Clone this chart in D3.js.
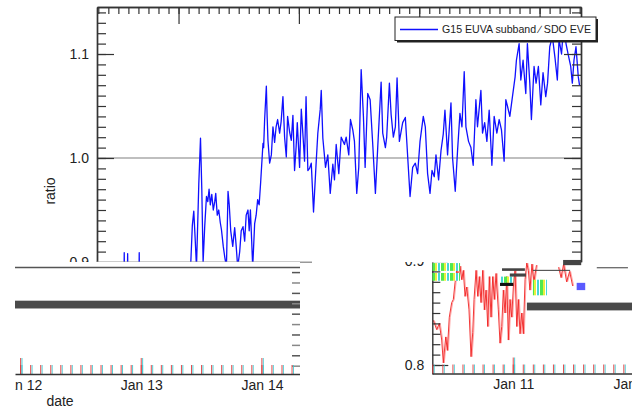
<!DOCTYPE html>
<html>
<head>
<meta charset="utf-8">
<script src="https://cdn.jsdelivr.net/npm/d3@7"></script>
<style>
  body { margin: 0; background: #fff; }
  svg { display: block; font-family: "Liberation Sans", Arial, Helvetica, sans-serif; }
</style>
</head>
<body>
<svg width="632" height="414"></svg>
<script>
const HOUR = 3600e3;
const blueEpoch = Date.UTC(2011, 0, 9); // hours of the blue series count from here
const redEpoch = Date.UTC(2011, 0, 10); // hours of the red series count from here

// top panel: G15 EUVA subband / SDO EVE ratio
const blueHours = [
  12.00, 13.10, 13.17, 13.25, 13.78, 13.85, 13.93, 16.08, 16.16, 16.24,
  25.85, 26.45, 26.75, 27.04, 27.34, 27.58, 27.84, 28.04, 28.38, 28.64,
  28.90, 29.23, 29.57, 29.83, 30.09, 30.33, 30.63, 30.93, 31.22, 31.42,
  31.72, 32.02, 32.32, 32.56, 32.92, 33.21, 33.55, 33.87, 34.11, 34.41,
  34.81, 35.20, 35.50, 35.80, 36.20, 36.50, 36.86, 37.19, 37.49, 37.85,
  38.09, 38.33, 38.59, 38.79, 39.18, 39.48, 39.78, 40.08, 40.38, 40.84,
  40.97, 41.17, 41.51, 41.67, 41.83, 42.17, 42.51, 42.83, 43.16, 43.46,
  43.76, 44.16, 44.46, 44.82, 45.15, 45.49, 45.75, 46.15, 46.49, 46.81,
  47.14, 47.44, 47.68, 48.14, 48.48, 48.84, 49.13, 49.43, 49.79, 50.13,
  50.47, 50.92, 51.46, 51.78, 52.26, 52.46, 52.78, 53.31, 53.77, 54.25,
  54.77, 55.10, 55.44, 55.96, 56.44, 57.09, 57.43, 57.95, 58.29, 58.75,
  59.08, 59.54, 59.94, 60.42, 60.87, 61.21, 61.73, 62.21, 62.73, 63.26,
  63.72, 64.40, 64.72, 65.25, 65.51, 66.05, 66.39, 66.84, 67.24, 67.58,
  68.04, 68.70, 69.23, 69.49, 70.17, 70.69, 71.22, 71.68, 72.16, 72.81,
  73.21, 73.67, 74.15, 74.55, 75.00, 75.34, 75.86, 76.34, 76.79, 77.13,
  77.65, 78.33, 78.65, 79.18, 79.64, 80.12, 80.52, 80.97, 81.31, 81.83,
  82.31, 82.76, 83.30, 83.62, 84.30, 84.62, 85.05, 85.49, 85.95, 86.49,
  86.94, 87.48, 87.94, 88.40, 88.93, 89.27, 89.59, 90.07, 90.59, 91.12,
  91.38, 91.92, 92.26, 92.71, 93.25, 93.57, 94.05, 94.37, 94.90, 95.30,
  95.76, 96.24, 96.69, 97.23, 97.59, 98.03, 98.55, 99.08, 99.54, 99.88,
  100.38, 100.87, 101.27, 101.73, 102.21, 102.53, 102.86, 103.26, 103.72, 103.96
];
const blueRatio = [
  0.870, 0.870, 0.909, 0.870, 0.870, 0.908, 0.870, 0.870, 0.909, 0.870,
  0.880, 0.900, 0.935, 0.949, 0.920, 0.895, 0.940, 0.975, 1.019, 0.970,
  0.900, 0.935, 0.963, 0.958, 0.970, 0.955, 0.965, 0.950, 0.958, 0.966,
  0.945, 0.950, 0.938, 0.931, 0.915, 0.905, 0.895, 0.968, 0.955, 0.930,
  0.915, 0.933, 0.915, 0.895, 0.910, 0.930, 0.934, 0.920, 0.945, 0.950,
  0.930, 0.950, 0.920, 0.895, 0.937, 0.945, 0.960, 0.955, 0.977, 1.014,
  1.010, 1.037, 1.069, 1.040, 1.017, 0.995, 1.003, 1.030, 1.015, 1.030,
  1.037, 1.024, 1.035, 1.059, 1.020, 1.001, 1.040, 1.025, 1.017, 1.041,
  0.988, 1.010, 1.034, 0.991, 1.047, 1.020, 0.997, 1.059, 0.988, 0.990,
  0.995, 0.948, 0.997, 1.024, 1.047, 1.065, 1.019, 0.991, 1.003, 0.966,
  0.994, 0.979, 1.013, 0.985, 1.020, 1.013, 1.020, 1.003, 1.037, 1.027,
  1.016, 0.966, 0.991, 1.085, 1.040, 0.991, 1.062, 1.056, 1.013, 0.966,
  1.010, 1.073, 1.024, 1.010, 1.020, 1.072, 1.042, 1.020, 1.030, 1.077,
  1.016, 1.034, 1.039, 1.018, 0.963, 0.991, 0.995, 0.985, 1.016, 1.040,
  1.030, 0.985, 0.966, 0.988, 0.982, 1.003, 0.979, 1.007, 1.023, 1.046,
  1.003, 1.053, 1.000, 0.968, 1.007, 1.043, 1.030, 1.083, 1.030, 1.016,
  1.010, 0.993, 1.056, 1.030, 1.065, 1.024, 1.034, 1.016, 1.046, 0.993,
  1.040, 1.024, 1.037, 1.027, 0.997, 1.056, 1.050, 1.040, 1.059, 1.078,
  1.094, 1.110, 1.075, 1.094, 1.062, 1.110, 1.072, 1.037, 1.088, 1.072,
  1.088, 1.051, 1.082, 1.059, 1.072, 1.107, 1.117, 1.096, 1.075, 1.114,
  1.100, 1.133, 1.110, 1.099, 1.088, 1.072, 1.094, 1.107, 1.078, 1.070
];

// lower right panel: red series (NaN = gap)
const redHours = [
  8.08, 8.76, 9.27, 9.75, 10.07, 10.55, 10.87, 11.26, 11.74, 12.06,
  12.40, 12.74, 13.05, 13.39, 13.73, 14.05, 14.39, 14.73, 15.18, 15.58,
  15.92, 16.18, 16.58, 16.92, 17.23, 17.57, 17.91, 18.23, 18.57, 18.91,
  19.22, 19.56, 19.90, 20.22, 20.56, 21.01, 21.35, 21.69, 22.01, 22.35,
  22.69, 23.00, 23.34, 23.68, 24.00, 24.34, 24.68, 25.00, 25.33, 25.67,
  25.99, 26.33, 26.67, 26.99, 27.30, 27.70, 28.10, 28.60, 30.00, 33.00,
  33.50, 34.00, 34.60, 35.20, 35.80
];
const redRatio = [
  0.843, 0.834, 0.840, 0.824, 0.802, 0.827, 0.814, 0.846, 0.860, 0.863,
  0.879, 0.891, 0.885, 0.895, 0.882, 0.891, 0.866, 0.875, 0.853, 0.808,
  0.831, 0.863, 0.891, 0.866, 0.885, 0.860, 0.891, 0.853, 0.872, 0.837,
  0.885, 0.846, 0.885, 0.863, 0.888, 0.853, 0.821, 0.837, 0.872, 0.850,
  0.885, 0.824, 0.863, 0.846, 0.875, 0.891, 0.837, 0.863, 0.830, 0.850,
  0.830, 0.882, 0.898, 0.891, 0.872, 0.897, 0.880, 0.896, NaN, 0.894,
  0.884, 0.897, 0.880, 0.890, 0.876
];

const bandRatio = [0.855, 0.8625];
const topMajorY = [0.9, 1.0, 1.1];
const topMinorY = d3.range(90, 115).map(d => d / 100);
const lowMajorY = [0.8, 0.9];
const lowMinorY = d3.range(80, 90).map(d => d / 100);
const legendLabel = "G15 EUVA subband \u2215 SDO EVE";

// stray blocks in the lower right panel, in its own units (hours, ratio)
const glitchBlocks = [
  { from: 7.9, to: 13.4, hi: 0.898, lo: 0.8905, kind: "stripes" },
  { from: 7.9, to: 13.4, hi: 0.8885, lo: 0.881, kind: "stripes" },
  { from: 21.35, to: 24.0, hi: 0.885, lo: 0.879, kind: "stripes" },
  { from: 27.9, to: 30.7, hi: 0.882, lo: 0.867, kind: "stripes" },
  { from: 21.35, to: 24.0, hi: 0.879, lo: 0.876, kind: "black" },
  { from: 21.75, to: 26.3, hi: 0.893, lo: 0.8905, kind: "dark" },
  { from: 23.3, to: 26.5, hi: 0.888, lo: 0.885, kind: "dark" },
  { from: 27.9, to: 35.3, hi: 0.8915, lo: 0.8905, kind: "dark" },
  { from: 40.6, to: 46.8, hi: 0.894, lo: 0.893, kind: "dark" },
  { from: 36.6, to: 38.3, hi: 0.879, lo: 0.872, kind: "blue" },
  { from: 33.9, to: 37.5, hi: 0.901, lo: 0.896, kind: "dark" }
];

const blue = blueHours.map((h, i) => ({ t: new Date(blueEpoch + h * HOUR), v: blueRatio[i] }));
const red = redHours.map((h, i) => ({ t: new Date(redEpoch + h * HOUR), v: redRatio[i] }));

const svg = d3.select("svg");
const defs = svg.append("defs");
function clip(id, x, y, w, h) {
  defs.append("clipPath").attr("id", id)
    .append("rect").attr("x", x).attr("y", y).attr("width", w).attr("height", h);
}
clip("clipTop", 0, 0, 632, 262.5);
clip("clipLeft", 15, 262, 285, 152);
clip("clipRight", 395, 262, 237, 152);

const stripes = defs.append("pattern").attr("id", "stripes")
  .attr("patternUnits", "userSpaceOnUse").attr("width", 9).attr("height", 9);
[["#4fe84f", 0, 3], ["#e8ef3c", 3, 2], ["#ffffff", 5, 1], ["#46d6d6", 6, 2], ["#ffffff", 8, 1]]
  .forEach(([c, x, w]) => stripes.append("rect").attr("x", x).attr("y", 0).attr("width", w).attr("height", 9).attr("fill", c));

function styleAxis(g) {
  g.attr("font-family", null).attr("font-size", 14);
  g.selectAll(".domain").attr("stroke", "#333").attr("stroke-width", 1.4);
  g.selectAll(".tick line").attr("stroke", "#333").attr("stroke-width", 1.2);
  g.selectAll(".tick text").attr("fill", "#222");
}

// ---------- top panel ----------
const xTop = d3.scaleUtc()
  .domain([new Date(blueEpoch + 7.74 * HOUR), new Date(blueEpoch + 104.26 * HOUR)])
  .range([97, 581]);
const yTop = d3.scaleLinear().domain([0.9, 1.1452]).range([262, 7]);

const topG = svg.append("g").attr("clip-path", "url(#clipTop)");

topG.append("line")
  .attr("x1", 97).attr("x2", 581)
  .attr("y1", yTop(1.0)).attr("y2", yTop(1.0))
  .attr("stroke", "#aaa").attr("stroke-width", 1.5);

topG.append("path").datum(blue)
  .attr("fill", "none").attr("stroke", "#1010ff").attr("stroke-width", 1.3)
  .attr("stroke-linejoin", "round")
  .attr("d", d3.line().x(d => xTop(d.t)).y(d => yTop(d.v)));

topG.append("g").attr("transform", "translate(97,0)")
  .call(d3.axisLeft(yTop).tickValues(topMinorY).tickSize(-9).tickSizeOuter(0).tickFormat(""))
  .call(styleAxis);
topG.append("g").attr("transform", "translate(97,0)")
  .call(d3.axisLeft(yTop).tickValues(topMajorY).tickSize(-17).tickSizeOuter(0).tickPadding(8).tickFormat(d3.format(".1f")))
  .call(styleAxis);
topG.append("g").attr("transform", "translate(581,0)")
  .call(d3.axisRight(yTop).tickValues(topMinorY).tickSize(-9).tickSizeOuter(0).tickFormat(""))
  .call(styleAxis);
topG.append("g").attr("transform", "translate(581,0)")
  .call(d3.axisRight(yTop).tickValues(topMajorY).tickSize(-17).tickSizeOuter(0).tickFormat(""))
  .call(styleAxis);
topG.append("g").attr("transform", "translate(0,7)")
  .call(d3.axisTop(xTop).ticks(d3.utcHour.every(2)).tickSize(-7).tickSizeOuter(0).tickFormat(""))
  .call(styleAxis);
topG.append("g").attr("transform", "translate(0,7)")
  .call(d3.axisTop(xTop).ticks(d3.utcDay.every(1)).tickSize(-17).tickSizeOuter(0).tickFormat(""))
  .call(styleAxis);

svg.append("text")
  .attr("transform", "translate(55,191) rotate(-90)")
  .attr("text-anchor", "middle").attr("font-size", 14).attr("fill", "#222")
  .text("ratio");

// legend
const leg = topG.append("g").attr("transform", "translate(395,17)");
leg.append("rect").attr("x", 2).attr("y", 2).attr("width", 201).attr("height", 23.5).attr("fill", "#222");
leg.append("rect").attr("x", 0).attr("y", 0).attr("width", 201).attr("height", 23.5)
  .attr("fill", "#fff").attr("stroke", "#222").attr("stroke-width", 1);
leg.append("line").attr("x1", 5).attr("x2", 43).attr("y1", 12.5).attr("y2", 12.5)
  .attr("stroke", "#1010ff").attr("stroke-width", 1.3);
leg.append("text").attr("x", 47).attr("y", 16.3).attr("font-size", 10.4).attr("fill", "#222")
  .attr("textLength", 149).attr("lengthAdjust", "spacingAndGlyphs")
  .text(legendLabel);

svg.append("line").attr("x1", 97).attr("x2", 312).attr("y1", 262.3).attr("y2", 262.3)
  .attr("stroke", "#999").attr("stroke-width", 1.5);

// chromatic date axis shared by the two lower panels
function dateAxis(g, scale, yPos) {
  [["#3cc8d2", 0.8], ["#e23a3a", -0.6]].forEach(([c, dx]) => {
    const layer = g.append("g").attr("transform", `translate(${dx},${yPos})`);
    layer.append("g").call(d3.axisBottom(scale).ticks(d3.utcHour.every(2)).tickSize(-9).tickSizeOuter(0).tickFormat(""));
    layer.append("g").call(d3.axisBottom(scale).ticks(d3.utcDay.every(1)).tickSize(-16).tickSizeOuter(0).tickFormat(""));
    layer.selectAll(".domain").remove();
    layer.selectAll(".tick line").attr("stroke", c).attr("stroke-width", 0.9);
  });
  g.append("g").attr("transform", `translate(0,${yPos})`)
    .call(d3.axisBottom(scale).ticks(d3.utcDay.every(1)).tickSize(0).tickSizeOuter(0).tickPadding(6)
      .tickFormat(d3.utcFormat("%b %-d")))
    .call(styleAxis);
}

// ---------- lower left panel ----------
const xLeft = d3.scaleUtc()
  .domain([new Date(Date.UTC(2011, 0, 11, 22, 52)), new Date(Date.UTC(2011, 0, 14, 7, 34))])
  .range([15, 300]);
const yLeft = d3.scaleLinear().domain([0.792, 0.8997]).range([374, 262]);

const leftG = svg.append("g").attr("clip-path", "url(#clipLeft)");
leftG.append("rect").attr("x", 15).attr("y", 262).attr("width", 285).attr("height", 152).attr("fill", "#fff");
leftG.append("line").attr("x1", 15).attr("x2", 300).attr("y1", 267.5).attr("y2", 267.5)
  .attr("stroke", "#555").attr("stroke-width", 1.5);
leftG.append("rect")
  .attr("x", 15).attr("width", 285)
  .attr("y", yLeft(bandRatio[1])).attr("height", yLeft(bandRatio[0]) - yLeft(bandRatio[1]))
  .attr("fill", "#4a4a4a");
leftG.append("g").attr("transform", "translate(300,0)")
  .call(d3.axisLeft(yLeft).tickValues(lowMinorY).tickSize(8).tickSizeOuter(0).tickFormat(""))
  .call(styleAxis)
  .call(g => g.select(".domain").remove())
  .call(g => g.selectAll(".tick line").attr("stroke", (d, i) => i % 2 ? "#555" : "#888").attr("stroke-width", 1.5));
dateAxis(leftG, xLeft, 374);

svg.append("text").attr("x", 60).attr("y", 406)
  .attr("text-anchor", "middle").attr("font-size", 14).attr("fill", "#222")
  .text("date");

// ---------- lower right panel ----------
const xRight = d3.scaleUtc()
  .domain([new Date(redEpoch + 7.88 * HOUR), new Date(redEpoch + 49 * HOUR)])
  .range([432.3, 639]);
const yRight = d3.scaleLinear().domain([0.79135, 0.89904]).range([374, 262]);

const rightG = svg.append("g").attr("clip-path", "url(#clipRight)");
rightG.append("rect")
  .attr("x", xRight(new Date(redEpoch + 26.7 * HOUR))).attr("width", 120)
  .attr("y", yRight(bandRatio[1] - 0.0025)).attr("height", yRight(bandRatio[0] - 0.0025) - yRight(bandRatio[1] - 0.0025))
  .attr("fill", "#4a4a4a");

rightG.append("path").datum(red)
  .attr("fill", "none").attr("stroke", "#ff9c9c").attr("stroke-width", 0.9)
  .attr("transform", "translate(1,0)")
  .attr("d", d3.line().defined(d => !isNaN(d.v)).x(d => xRight(d.t)).y(d => yRight(d.v)));
rightG.append("path").datum(red)
  .attr("fill", "none").attr("stroke", "#f02020").attr("stroke-width", 0.9)
  .attr("d", d3.line().defined(d => !isNaN(d.v)).x(d => xRight(d.t)).y(d => yRight(d.v)));

rightG.append("g").attr("transform", "translate(432.3,0)")
  .call(d3.axisLeft(yRight).tickValues(lowMinorY).tickSize(-8).tickSizeOuter(0).tickFormat(""))
  .call(styleAxis);
rightG.append("g").attr("transform", "translate(432.3,0)")
  .call(d3.axisLeft(yRight).tickValues(lowMajorY).tickSize(-16).tickSizeOuter(0).tickPadding(8).tickFormat(d3.format(".1f")))
  .call(styleAxis)
  .call(g => g.select(".domain").remove());
dateAxis(rightG, xRight, 373.5);

const glitchFill = { stripes: "url(#stripes)", black: "#111", dark: "#444", blue: "#5a5aff" };
svg.append("g").selectAll("rect").data(glitchBlocks).join("rect")
  .attr("x", d => xRight(new Date(redEpoch + d.from * HOUR)))
  .attr("width", d => xRight(new Date(redEpoch + d.to * HOUR)) - xRight(new Date(redEpoch + d.from * HOUR)))
  .attr("y", d => yRight(d.hi))
  .attr("height", d => Math.max(1, yRight(d.lo) - yRight(d.hi)))
  .attr("fill", d => glitchFill[d.kind]);
</script>
</body>
</html>
